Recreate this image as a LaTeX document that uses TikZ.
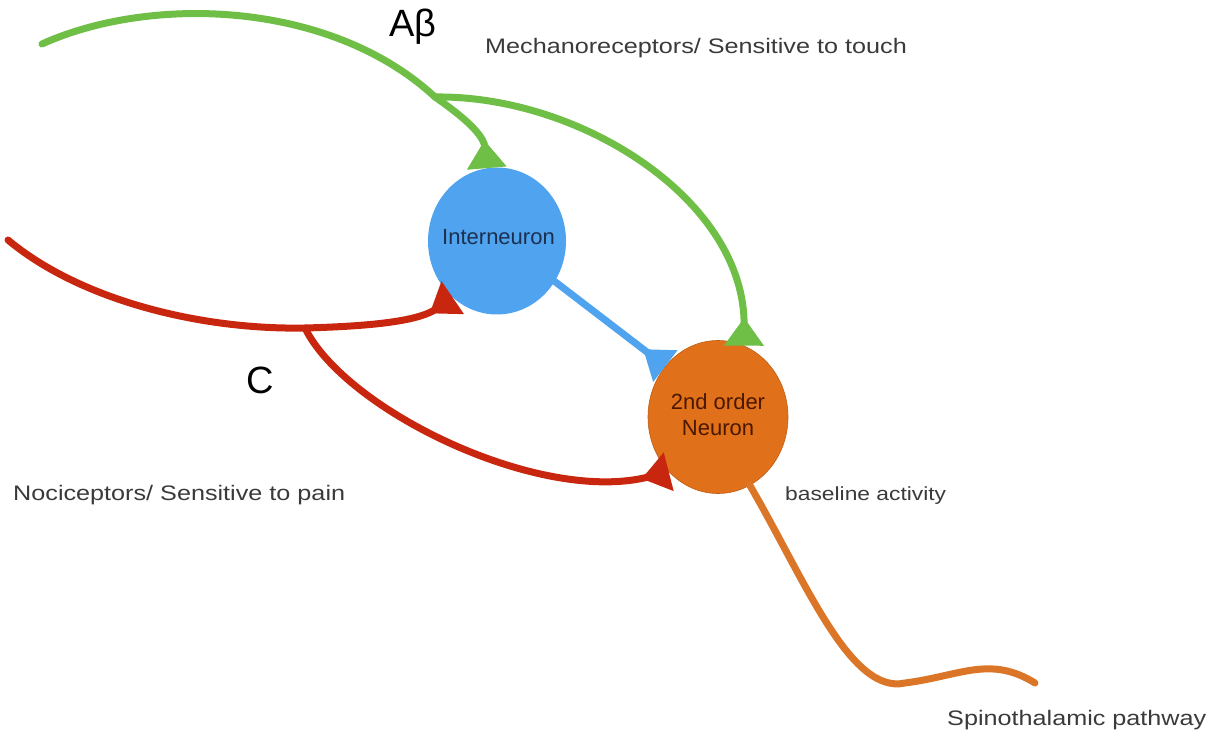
\documentclass[tikz,border=0pt]{standalone}
\usepackage{fontspec}
\setmainfont{Liberation Sans}
\newfontfamily\lblfont[FakeStretch=1.2]{Liberation Sans}
\usetikzlibrary{arrows.meta,shapes.geometric}
\definecolor{cgreen}{HTML}{6FBE46}
\definecolor{cred}{HTML}{C8260E}
\definecolor{cblue}{HTML}{50A3EE}
\definecolor{corange}{HTML}{E0701A}
\definecolor{corangeline}{HTML}{DB7628}
\definecolor{lblgray}{HTML}{3A3A3A}
\definecolor{intertext}{HTML}{1B3050}
\definecolor{neurtext}{HTML}{4A1800}
\begin{document}
\begin{tikzpicture}[x=1pt,y=-1pt,
  fiber/.style={line width=7pt, line cap=round},
  syn/.style={-{Triangle[reversed,length=28pt,width=38pt]}},
  cell/.style={ellipse, inner sep=0pt},
  lbl/.style={anchor=base west, inner sep=0pt, text=lblgray, font=\lblfont\fontsize{21}{25}\selectfont},
  biglbl/.style={anchor=base west, inner sep=0pt, text=black, font=\fontsize{38}{42}\selectfont}]
\useasboundingbox (0,0) rectangle (1218,735);

% cells
\node[cell, fill=cblue, minimum width=138pt, minimum height=147pt, text=intertext,
      font=\fontsize{22}{26}\selectfont] (inter) at (497,241)
      {\makebox[0pt]{\hspace*{3pt}\raisebox{9pt}{Interneuron}}};
\node[cell, fill=corange, draw=corange!85!black, line width=0.6pt, minimum width=140pt, minimum height=153pt,
      text=neurtext, font=\fontsize{22}{26}\selectfont] (neuron) at (718,417)
      {\makebox[0pt]{\raisebox{6pt}{\begin{tabular}{@{}c@{}}2nd order\\Neuron\end{tabular}}}};

% free ends and branch points
\coordinate (gA) at (42,44);
\coordinate (gsplit) at (435,97);
\coordinate (rA) at (8,240);
\coordinate (rsplit) at (305,328);
\coordinate (oBend) at (905,683);
\coordinate (oEnd) at (1035,683);

% A-beta fibre (green)
\draw[fiber, cgreen, syn] (gA) .. controls (150,-5) and (330,0) .. (gsplit)
      .. controls (465,118) and (484,135) .. (inter.98);
\draw[fiber, cgreen, syn] (gsplit) .. controls (580,95) and (745,200) .. (neuron.70);

% C fibre (red)
\draw[fiber, cred, syn] (rA) .. controls (80,300) and (200,330) .. (rsplit)
      .. controls (380,326) and (420,320) .. (inter.232);
\draw[fiber, cred, syn] (rsplit) .. controls (345,410) and (540,505) .. (neuron.228);

% interneuron to 2nd order neuron (blue)
\draw[fiber, cblue, syn] (inter.-35) -- (neuron.136);

% output (orange)
\draw[fiber, corangeline] (neuron.-65) .. controls (805,580) and (850,695) .. (oBend)
      .. controls (960,676) and (990,655) .. (oEnd);

% labels
\node[biglbl] (abeta) at (389,37) {Aβ};
\node[lbl] (mech) at (485,54) {Mechanoreceptors/ Sensitive to touch};
\node[biglbl] (cfib) at (246,393) {C};
\node[lbl] (noci) at (13,500) {Nociceptors/ Sensitive to pain};
\node[lbl, font=\lblfont\fontsize{19}{23}\selectfont] (base) at (785,500) {baseline activity};
\node[lbl] (spino) at (947,725) {Spinothalamic pathway};
\end{tikzpicture}
\end{document}
